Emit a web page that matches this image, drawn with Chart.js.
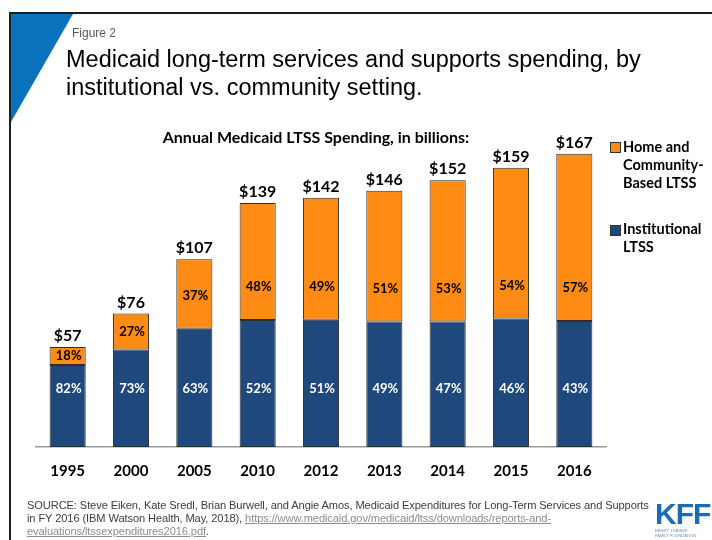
<!DOCTYPE html>
<html>
<head>
<meta charset="utf-8">
<script src="https://cdn.jsdelivr.net/npm/chart.js@4.4.1/dist/chart.umd.min.js"></script>
<style>
  html, body { margin: 0; padding: 0; background: #fff; }
  #wrap { position: relative; width: 712px; height: 540px; overflow: hidden; background: #fff; }
  #chart { position: absolute; left: 0; top: 0; }
  .frame-top { position: absolute; left: 9px; top: 12px; width: 703px; height: 2px; background: #1e1e1e; }
  .frame-left { position: absolute; left: 9px; top: 12px; width: 2px; height: 528px; background: #1e1e1e; }
  .corner { position: absolute; left: 11px; top: 14px; width: 62px; height: 108px; background: #0B72BD;
            clip-path: polygon(0 0, 100% 0, 0 100%); }
  .fig { position: absolute; left: 72px; top: 26px; font: 12px "Liberation Sans", Arial, sans-serif; color: #5a5a5a; }
  .title { position: absolute; left: 66px; top: 45px; font: 23.5px/28px "Liberation Sans", Arial, sans-serif; color: #000; white-space: nowrap; }
  .sub { position: absolute; left: 0; width: 632px; top: 127px; text-align: center; font: bold 16px Lato, sans-serif; color: #000; }
  .legend { position: absolute; left: 610px; font: bold 14.5px/18px Lato, sans-serif; color: #000; }
  .legend .sw { position: absolute; left: 0; width: 9px; height: 9px; border: 1px solid #333; }
  .legend .tx { position: absolute; left: 13px; white-space: nowrap; }
  .src { position: absolute; left: 27px; top: 499px; font: 11.1px/13px "Liberation Sans", Arial, sans-serif; color: #3c3c3c; white-space: nowrap; letter-spacing: -0.1px; }
  .src a { color: #8c8c8c; text-decoration: underline; }
  .logo { position: absolute; left: 655px; top: 500px; width: 54px; }
  .logo .kff { font: bold 30px/28px "Liberation Sans Narrow", "Liberation Sans", Arial, sans-serif; color: #1B6DB3; letter-spacing: -1px; }
  .logo .small { font: 4px/5px "Liberation Sans", Arial, sans-serif; color: #6a8fb8; white-space: nowrap; }
</style>
</head>
<body>
<div id="wrap">
  <canvas id="chart" width="712" height="540"></canvas>
  <div class="corner"></div>
  <div class="frame-top"></div>
  <div class="frame-left"></div>
  <div class="fig">Figure 2</div>
  <div class="title">Medicaid long-term services and supports spending, by<br>institutional vs. community setting.</div>
  <div class="sub">Annual Medicaid LTSS Spending, in billions:</div>
  <div class="legend" style="top:0">
    <div class="sw" style="top:142px; background:#FD8B14"></div>
    <div class="tx" style="top:138px">Home and<br>Community-<br>Based LTSS</div>
    <div class="sw" style="top:225px; background:#1F497D"></div>
    <div class="tx" style="top:220px">Institutional<br>LTSS</div>
  </div>
  <div class="src">SOURCE: Steve Eiken, Kate Sredl, Brian Burwell, and Angie Amos, Medicaid Expenditures for Long-Term Services and Supports<br>in FY 2016 (IBM Watson Health, May, 2018), <a>https://www.medicaid.gov/medicaid/ltss/downloads/reports-and-</a><br><a>evaluations/ltssexpenditures2016.pdf</a>.</div>
  <div class="logo">
    <div class="kff">KFF</div>
    <div class="small">HENRY J KAISER<br>FAMILY FOUNDATION</div>
  </div>
</div>
<script>
// Medicaid LTSS spending by year (billions of dollars) and the split by setting (percent)
const years = ['1995', '2000', '2005', '2010', '2012', '2013', '2014', '2015', '2016'];
const totalSpending = [57, 76, 107, 139, 142, 146, 152, 159, 167];
const hcbsShare = [18, 27, 37, 48, 49, 51, 53, 54, 57];
const institutionalShare = [82, 73, 63, 52, 51, 49, 47, 46, 43];

const institutionalSpending = totalSpending.map((t, i) => t * institutionalShare[i] / 100);
const hcbsSpending = totalSpending.map((t, i) => t * hcbsShare[i] / 100);

const ORANGE = '#FD8B14';
const NAVY = '#1F497D';

// Writes the share inside each segment and the total above each bar
const barLabels = {
  id: 'barLabels',
  afterDatasetsDraw(chart) {
    const { ctx } = chart;
    const instMeta = chart.getDatasetMeta(0);
    const hcbsMeta = chart.getDatasetMeta(1);
    const axisY = chart.scales.y.getPixelForValue(0);
    ctx.save();
    ctx.textAlign = 'center';
    ctx.textBaseline = 'middle';
    instMeta.data.forEach((bar, i) => {
      ctx.font = 'bold 13px Lato, sans-serif';
      ctx.fillStyle = '#ffffff';
      ctx.fillText(institutionalShare[i] + '%', bar.x + 1, axisY - 58);

      const top = hcbsMeta.data[i];
      const center = (top.y + top.base) / 2;
      ctx.fillStyle = '#000000';
      ctx.fillText(hcbsShare[i] + '%', top.x + 1, Math.max(center, top.base - 33));

      ctx.font = 'bold 16px Lato, sans-serif';
      ctx.fillText('$' + totalSpending[i], top.x, top.y - 11);
    });
    ctx.restore();
  }
};

new Chart(document.getElementById('chart'), {
  type: 'bar',
  data: {
    labels: years,
    datasets: [
      {
        label: 'Institutional LTSS',
        data: institutionalSpending,
        backgroundColor: NAVY,
        borderColor: '#2e2e2e',
        borderWidth: 1,
        borderSkipped: false
      },
      {
        label: 'Home and Community-Based LTSS',
        data: hcbsSpending,
        backgroundColor: ORANGE,
        borderColor: '#2e2e2e',
        borderWidth: 1,
        borderSkipped: false
      }
    ]
  },
  options: {
    responsive: false,
    animation: false,
    devicePixelRatio: 1,
    layout: { padding: { left: 36, right: 106, top: 131, bottom: 0 } },
    datasets: { bar: { barPercentage: 0.57, categoryPercentage: 1 } },
    plugins: { legend: { display: false }, tooltip: { enabled: false } },
    scales: {
      x: {
        stacked: true,
        grid: { display: false },
        border: { display: true, color: '#9a9a9a', width: 1.5 },
        ticks: { color: '#000', font: { family: 'Lato, sans-serif', weight: 'bold', size: 15 }, padding: 7 },
        afterFit(scale) { scale.height = 93; }
      },
      y: {
        stacked: true,
        display: false,
        min: 0,
        max: 180
      }
    }
  },
  plugins: [barLabels]
});
</script>
</body>
</html>
